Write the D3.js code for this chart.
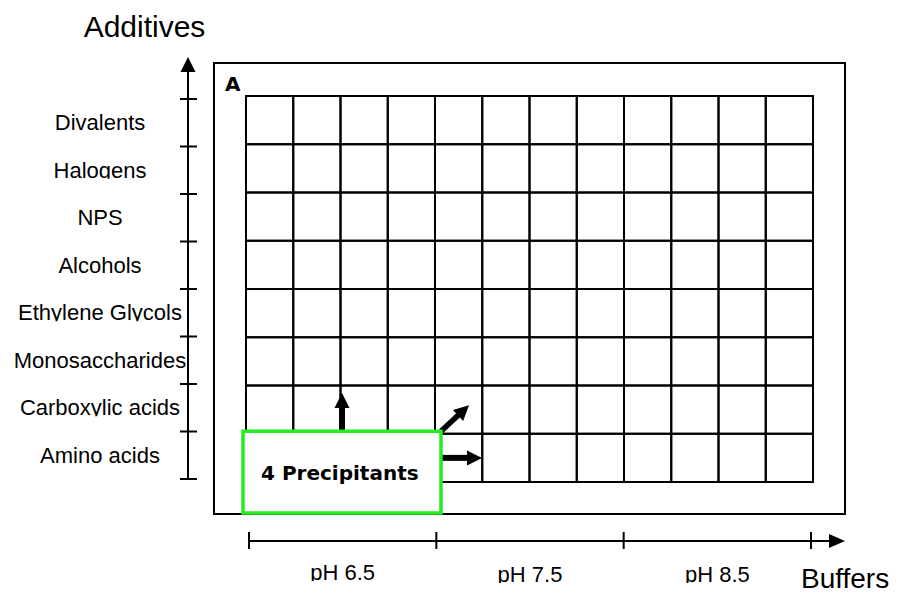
<!DOCTYPE html>
<html>
<head>
<meta charset="utf-8">
<script src="https://cdn.jsdelivr.net/npm/d3@7"></script>
<style>
  body { margin: 0; background: #fff; }
  svg { display: block; }
</style>
</head>
<body>
<svg width="898" height="596"></svg>
<script>
// screen layout: additives on the left, buffers along the bottom
const additives = ["Divalents", "Halogens", "NPS", "Alcohols", "Ethylene Glycols",
    "Monosaccharides", "Carboxylic acids", "Amino acids"];
const buffers = ["pH 6.5", "pH 7.5", "pH 8.5"];
const plateRows = ["A", "B", "C", "D", "E", "F", "G", "H"];
const plateCols = [1, 2, 3, 4, 5, 6, 7, 8, 9, 10, 11, 12];
const precipitants = 4;
const plateName = "A";

const font = "'Liberation Sans', Arial, sans-serif";
const heavy = "'DejaVu Sans', sans-serif";

let svg = d3.select("svg");

let colX = d3.scaleBand().domain(plateCols).range([246, 813]),
    rowY = d3.scaleBand().domain(plateRows).range([96, 482]),
    addY = d3.scaleBand().domain(additives).range([99, 479]),
    bufX = d3.scaleBand().domain(buffers).range([249, 811]);

// clip for the cut-off descenders of the labels
svg.append("defs").append("clipPath")
    .attr("id", "base")
    .append("rect")
    .attr("x", -300).attr("y", -60).attr("width", 600).attr("height", 61);

function arrow(g, x1, y1, x2, y2, shaftW, headW, headL) {
    let len = Math.hypot(x2 - x1, y2 - y1),
        ang = Math.atan2(y2 - y1, x2 - x1) * 180 / Math.PI;
    let a = g.append("g").attr("transform", "translate(" + x1 + "," + y1 + ") rotate(" + ang + ")");
    a.append("line")
        .attr("x2", len - headL + 1)
        .attr("stroke", "#000")
        .attr("stroke-width", shaftW);
    a.append("path")
        .attr("d", "M" + len + ",0L" + (len - headL) + "," + (-headW / 2) + "L" + (len - headL) + "," + (headW / 2) + "Z")
        .attr("fill", "#000");
}

// outer plate frame
svg.append("rect")
    .attr("x", 214).attr("y", 63)
    .attr("width", 631).attr("height", 451)
    .attr("fill", "none").attr("stroke", "#000").attr("stroke-width", 2);

svg.append("text")
    .attr("x", 225).attr("y", 91)
    .attr("font-family", heavy).attr("font-weight", "bold").attr("font-size", 20)
    .text(plateName);

// wells
let cells = [];
plateRows.forEach(function (r) {
    plateCols.forEach(function (c) { cells.push({row: r, col: c}); });
});

svg.append("g").selectAll("rect")
    .data(cells)
    .enter().append("rect")
    .attr("x", d => colX(d.col))
    .attr("y", d => rowY(d.row))
    .attr("width", colX.bandwidth())
    .attr("height", rowY.bandwidth())
    .attr("fill", "none")
    .attr("stroke", "#000")
    .attr("stroke-width", 2);

// additives axis
let ax = svg.append("g");
let axX = 188;
let yTicks = additives.map(d => addY(d)).concat([addY.range()[1]]);
arrow(ax, axX, yTicks[yTicks.length - 1], axX, 57, 2, 15, 15);
ax.selectAll(".tick")
    .data(yTicks)
    .enter().append("line")
    .attr("x1", axX - 8).attr("x2", axX + 9)
    .attr("y1", d => d).attr("y2", d => d)
    .attr("stroke", "#000").attr("stroke-width", 2);

ax.selectAll(".lab")
    .data(additives)
    .enter().append("g")
    .attr("transform", d => "translate(100," + (addY(d) + addY.bandwidth() / 2 + 7.5) + ")")
    .append("text")
    .attr("clip-path", "url(#base)")
    .attr("text-anchor", "middle")
    .attr("font-family", font).attr("font-size", 22)
    .text(d => d);

svg.append("text")
    .attr("x", 144.5).attr("y", 37)
    .attr("text-anchor", "middle")
    .attr("font-family", font).attr("font-size", 30)
    .text("Additives");

// buffers axis
let bx = svg.append("g");
let axY = 541;
let xTicks = buffers.map(d => bufX(d)).concat([bufX.range()[1]]);
arrow(bx, xTicks[0], axY, 845, axY, 2, 14, 16);
bx.selectAll(".tick")
    .data(xTicks)
    .enter().append("line")
    .attr("x1", d => d).attr("x2", d => d)
    .attr("y1", axY - 9).attr("y2", axY + 8)
    .attr("stroke", "#000").attr("stroke-width", 2);

bx.selectAll(".lab")
    .data(buffers)
    .enter().append("g")
    .attr("transform", (d, i) => "translate(" + (bufX(d) + bufX.bandwidth() / 2) + "," + (580 + Math.min(i, 1) * 2) + ")")
    .append("text")
    .attr("clip-path", "url(#base)")
    .attr("text-anchor", "middle")
    .attr("font-family", font).attr("font-size", 22)
    .text(d => d);

svg.append("text")
    .attr("x", 801).attr("y", 588)
    .attr("font-family", font).attr("font-size", 28)
    .text("Buffers");

// precipitant block spanning the first wells of the last row
let lastRow = plateRows[plateRows.length - 1];
let bx0 = colX(plateCols[0]) - 3,
    bx1 = colX(plateCols[precipitants - 1]) + colX.bandwidth() + 6,
    by0 = rowY(lastRow) - 2.5,
    by1 = 513;
let bmx = (bx0 + bx1) / 2,
    rowMid = rowY(lastRow) + rowY.bandwidth() / 2;

let pg = svg.append("g");
arrow(pg, bmx, by0, bmx, 393, 6, 15, 15);
arrow(pg, bx1, by0, bx1 + 28, by0 - 26, 5.5, 15, 15);
arrow(pg, bx1, rowMid, 482, rowMid, 6, 15, 15);

pg.append("rect")
    .attr("x", bx0).attr("y", by0)
    .attr("width", bx1 - bx0).attr("height", by1 - by0)
    .attr("fill", "#fff")
    .attr("stroke", "#22ee22")
    .attr("stroke-width", 3.5);

pg.append("text")
    .attr("x", bx0 + 18).attr("y", (by0 + by1) / 2 + 8)
    .attr("font-family", heavy).attr("font-weight", "bold").attr("font-size", 20)
    .text(precipitants + " Precipitants");
</script>
</body>
</html>
